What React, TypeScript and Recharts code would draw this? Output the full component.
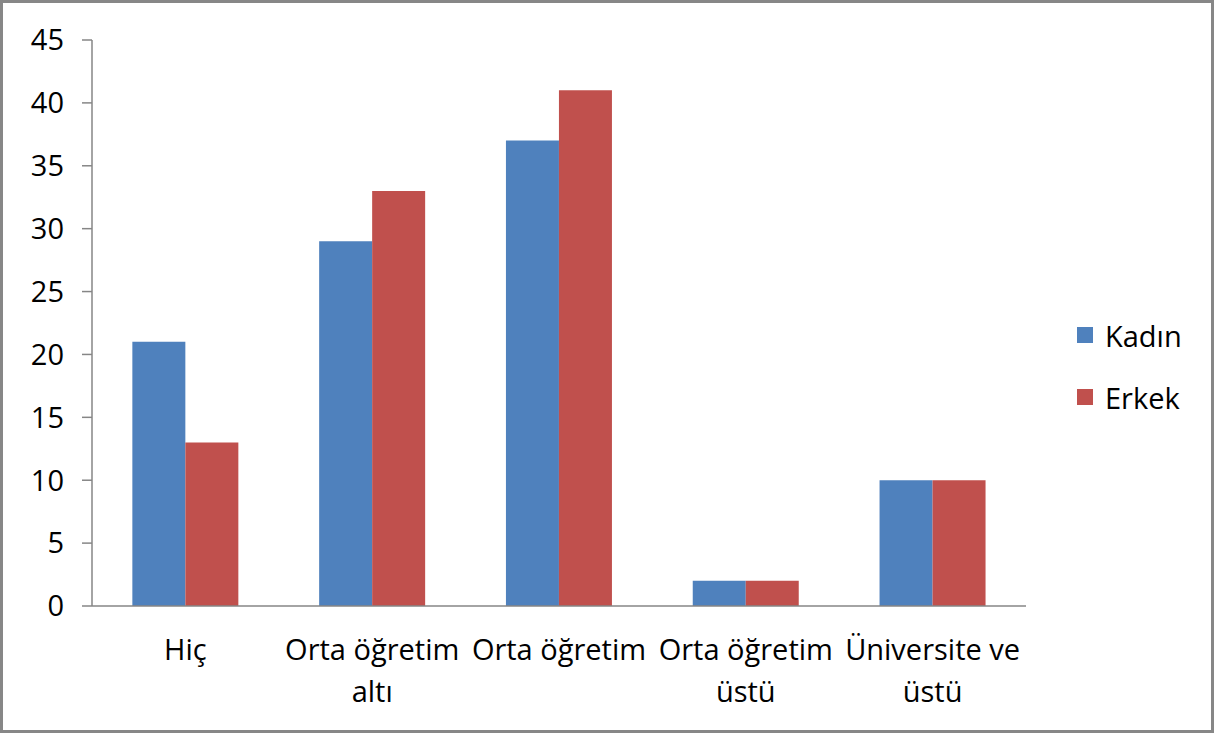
import React from 'react';
import { BarChart, Bar, XAxis, YAxis, Legend } from 'recharts';

const categories = ['Hiç', 'Orta öğretim altı', 'Orta öğretim', 'Orta öğretim üstü', 'Üniversite ve üstü'];
const tickLabelLines = [['Hiç'], ['Orta öğretim', 'altı'], ['Orta öğretim'], ['Orta öğretim', 'üstü'], ['Üniversite ve', 'üstü']];
const kadin = [21, 29, 37, 2, 10];
const erkek = [13, 33, 41, 2, 10];
const yTicks = [0, 5, 10, 15, 20, 25, 30, 35, 40, 45];
const edgeTicks = [0, 1, 2, 3, 4, 5];
const seriesNames = ['Kadın', 'Erkek'];
const seriesColors = ['#4F81BD', '#C0504D'];

const data = categories.map((c, i) => ({ name: c, Kadın: kadin[i], Erkek: erkek[i] }));

const FONT = '"Open Sans", sans-serif';
const FS = 29;
const AXIS = '#868686';

const CatTick = (props: any) => {
  const { x, y, payload } = props;
  const lines = tickLabelLines[categories.indexOf(payload.value)] || [payload.value];
  return (
    <g>
      {lines.map((l: string, i: number) => (
        <text key={i} x={x} y={y + 54 + i * 42} textAnchor="middle" fill="#000" fontSize={FS} fontFamily={FONT}>
          {l}
        </text>
      ))}
    </g>
  );
};

const LegendContent = () => (
  <div style={{ fontFamily: FONT, fontSize: FS, color: '#000' }}>
    {seriesNames.map((n, i) => (
      <div key={n} style={{ display: 'flex', alignItems: 'center', height: 62 }}>
        <div style={{ width: 16, height: 16, background: seriesColors[i], marginRight: 12 }} />
        <span>{n}</span>
      </div>
    ))}
  </div>
);

export default function App() {
  return (
    <div
      style={{
        position: 'absolute',
        left: 0,
        top: 0,
        width: 1214,
        height: 733,
        boxSizing: 'border-box',
        border: '3px solid #878787',
        background: '#fff',
      }}
    >
      <BarChart
        width={1208}
        height={727}
        data={data}
        margin={{ top: 37, right: 185, bottom: 122, left: 0 }}
        barCategoryGap="21.6%"
        barGap={0}
      >
        <XAxis
          xAxisId="cat"
          dataKey="name"
          height={1}
          tickSize={0}
          tickMargin={0}
          tickLine={false}
          axisLine={{ stroke: AXIS, strokeWidth: 1.5 }}
          tick={<CatTick />}
          interval={0}
        />
        <XAxis
          xAxisId="edge"
          type="number"
          domain={[0, 5]}
          ticks={edgeTicks}
          height={1}
          tick={false}
          axisLine={false}
          tickLine={{ stroke: AXIS, strokeWidth: 1.5 }}
          tickSize={10}
        />
        <YAxis
          width={89}
          domain={[0, 45]}
          ticks={yTicks}
          interval={0}
          tickSize={10}
          tickMargin={18}
          axisLine={{ stroke: AXIS, strokeWidth: 1.5 }}
          tickLine={{ stroke: AXIS, strokeWidth: 1.5 }}
          tick={{ fill: '#000', fontSize: FS, fontFamily: FONT }}
        />
        <Legend
          verticalAlign="middle"
          align="center"
          layout="horizontal"
          content={<LegendContent />}
          wrapperStyle={{ left: 1074, top: 301, width: 130 }}
        />
        <Bar xAxisId="cat" dataKey="Kadın" fill={seriesColors[0]} isAnimationActive={false} />
        <Bar xAxisId="cat" dataKey="Erkek" fill={seriesColors[1]} isAnimationActive={false} />
      </BarChart>
    </div>
  );
}
